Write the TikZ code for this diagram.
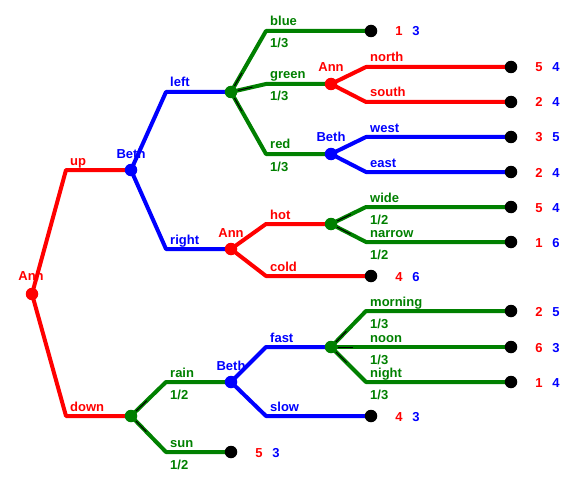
\documentclass[tikz,border=0pt]{standalone}
\usepackage{fontspec}
\setmainfont{Liberation Sans}
\usetikzlibrary{calc}
\definecolor{gr}{RGB}{0,128,0}
\definecolor{rd}{RGB}{255,0,0}
\definecolor{bl}{RGB}{0,0,255}
\pgfdeclarelayer{bg}
\pgfsetlayers{bg,main}
\tikzset{
  edge/.style={line width=4pt, line join=round},
  dot/.style={circle, fill, inner sep=0pt, minimum size=12.5pt},
  lab/.style={font=\bfseries\fontsize{13}{15}\selectfont, inner sep=0pt, anchor=base west},
  plab/.style={font=\bfseries\fontsize{13}{15}\selectfont, inner sep=0pt, anchor=base},
  chev/.style={black, line width=1pt},
}
% \gtedge{from}{bend}{to}{colour}{label}{prob}
\newcommand{\gtedge}[6]{%
  \begin{pgfonlayer}{bg}
    \draw[edge, #4] (#1.center) -- (#2) -- (#3.center);
  \end{pgfonlayer}
  \node[lab, text=#4] at ($(#2)+(4,-5)$) {#5};
  \node[lab, text=#4] at ($(#2)+(4,17)$) {#6};
}
\newcommand{\gtpay}[3]{%
  \node[plab, text=rd] (#1r) at ($(#1)+(28,5)$) {#2};
  \node[plab, text=bl] (#1b) at ($(#1)+(45,5)$) {#3};
}
\newcommand{\gtchev}[2]{%
  \draw[chev] ($(#1)!7pt!(#2)$) -- ($(#1)!22pt!(#2)$);
}
\begin{document}
\begin{tikzpicture}[x=1pt,y=-1pt]
\useasboundingbox (0,0) rectangle (578,484);
% decision / chance nodes
\node[dot, rd] (A0) at (32,294) {};
\node[dot, bl] (B1) at (131,170) {};
\node[dot, gr] (C1) at (131,416) {};
\node[dot, gr] (C2) at (231,92) {};
\node[dot, rd] (A2) at (231,249) {};
\node[dot, rd] (A3) at (331,84) {};
\node[dot, bl] (B3) at (331,154) {};
\node[dot, gr] (C3) at (331,224) {};
\node[dot, bl] (B4) at (231,382) {};
\node[dot, gr] (C4) at (331,347) {};
% terminals
\node[dot, black] (T1) at (371,31) {};
\node[dot, black] (T2) at (511,67) {};
\node[dot, black] (T3) at (511,102) {};
\node[dot, black] (T4) at (511,137) {};
\node[dot, black] (T5) at (511,172) {};
\node[dot, black] (T6) at (371,276) {};
\node[dot, black] (T7) at (511,207) {};
\node[dot, black] (T8) at (511,242) {};
\node[dot, black] (T9) at (231,452) {};
\node[dot, black] (T10) at (371,416) {};
\node[dot, black] (T11) at (511,311) {};
\node[dot, black] (T12) at (511,347) {};
\node[dot, black] (T13) at (511,382) {};
% bends
\coordinate (k1) at (66,170);
\coordinate (k2) at (66,416);
\coordinate (k3) at (166,92);
\coordinate (k4) at (166,249);
\coordinate (k5) at (266,31);
\coordinate (k6) at (266,84);
\coordinate (k7) at (266,154);
\coordinate (k8) at (366,67);
\coordinate (k9) at (366,102);
\coordinate (k10) at (366,137);
\coordinate (k11) at (366,172);
\coordinate (k12) at (266,224);
\coordinate (k13) at (266,276);
\coordinate (k14) at (366,207);
\coordinate (k15) at (366,242);
\coordinate (k16) at (166,382);
\coordinate (k17) at (166,452);
\coordinate (k18) at (266,347);
\coordinate (k19) at (266,416);
\coordinate (k20) at (366,311);
\coordinate (k21) at (366,347);
\coordinate (k22) at (366,382);
% player labels
\node[plab, text=rd] (lA0) at ($(A0)+(-1,-14)$) {Ann};
\node[plab, text=bl] (lB1) at ($(B1)+(0,-12)$) {Beth};
\node[plab, text=rd] (lA2) at ($(A2)+(0,-12)$) {Ann};
\node[plab, text=rd] (lA3) at ($(A3)+(0,-12)$) {Ann};
\node[plab, text=bl] (lB3) at ($(B3)+(0,-12)$) {Beth};
\node[plab, text=bl] (lB4) at ($(B4)+(0,-12)$) {Beth};
% edges
\gtedge{A0}{k1}{B1}{rd}{up}{}
\gtedge{A0}{k2}{C1}{rd}{down}{}
\gtedge{B1}{k3}{C2}{bl}{left}{}
\gtedge{B1}{k4}{A2}{bl}{right}{}
\gtedge{C2}{k5}{T1}{gr}{blue}{1/3}
\gtedge{C2}{k6}{A3}{gr}{green}{1/3}
\gtedge{C2}{k7}{B3}{gr}{red}{1/3}
\gtedge{A3}{k8}{T2}{rd}{north}{}
\gtedge{A3}{k9}{T3}{rd}{south}{}
\gtedge{B3}{k10}{T4}{bl}{west}{}
\gtedge{B3}{k11}{T5}{bl}{east}{}
\gtedge{A2}{k12}{C3}{rd}{hot}{}
\gtedge{A2}{k13}{T6}{rd}{cold}{}
\gtedge{C3}{k14}{T7}{gr}{wide}{1/2}
\gtedge{C3}{k15}{T8}{gr}{narrow}{1/2}
\gtedge{C1}{k16}{B4}{gr}{rain}{1/2}
\gtedge{C1}{k17}{T9}{gr}{sun}{1/2}
\gtedge{B4}{k18}{C4}{bl}{fast}{}
\gtedge{B4}{k19}{T10}{bl}{slow}{}
\gtedge{C4}{k20}{T11}{gr}{morning}{1/3}
\gtedge{C4}{k21}{T12}{gr}{noon}{1/3}
\gtedge{C4}{k22}{T13}{gr}{night}{1/3}
% chance markers
\gtchev{C2}{k5}\gtchev{C2}{k6}\gtchev{C2}{k7}
\gtchev{C3}{k14}\gtchev{C3}{k15}
\gtchev{C1}{k16}\gtchev{C1}{k17}
\gtchev{C4}{k20}\gtchev{C4}{k21}\gtchev{C4}{k22}
% payoffs
\gtpay{T1}{1}{3}
\gtpay{T2}{5}{4}
\gtpay{T3}{2}{4}
\gtpay{T4}{3}{5}
\gtpay{T5}{2}{4}
\gtpay{T6}{4}{6}
\gtpay{T7}{5}{4}
\gtpay{T8}{1}{6}
\gtpay{T9}{5}{3}
\gtpay{T10}{4}{3}
\gtpay{T11}{2}{5}
\gtpay{T12}{6}{3}
\gtpay{T13}{1}{4}
\end{tikzpicture}
\end{document}
